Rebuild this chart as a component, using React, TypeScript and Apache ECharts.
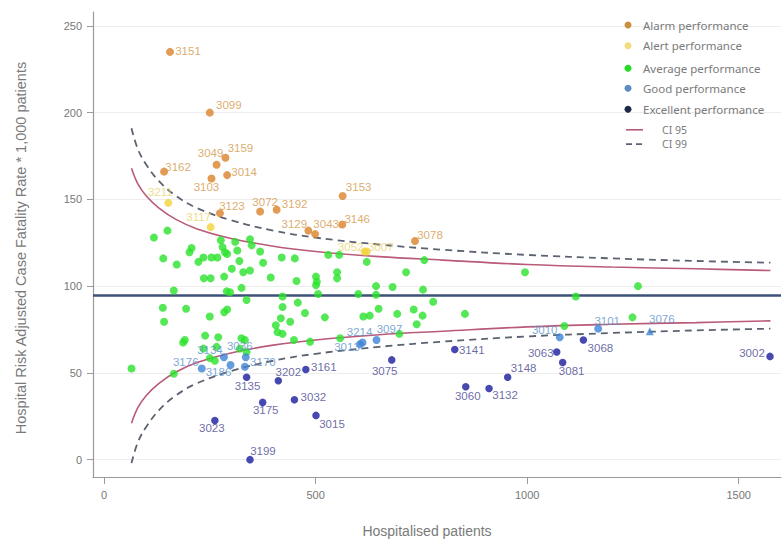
import React, { useEffect, useRef } from "react";
import * as echarts from "echarts";

// ---------- data ----------
const xTicks = [0, 500, 1000, 1500];
const yTicks = [0, 50, 100, 150, 200, 250];
const meanRate = 94.5;

const alarmIds = ["3151", "3099", "3159", "3049", "3014", "3162", "3103", "3123", "3072", "3192", "3129", "3043", "3153", "3146", "3078"];
const alarmX = [156, 250, 287, 266, 291, 142, 254, 274, 369, 408, 483, 499, 564, 563, 735];
const alarmY = [235, 200, 174, 170, 164, 166, 162, 142, 143, 144, 132, 130, 152, 135.5, 126];

const alertIds = ["3211", "3117", "3052", "3007"];
const alertX = [152, 252, 616, 621];
const alertY = [148, 134, 120, 120];

const averageX = [150, 118, 276, 345, 310, 349, 207, 280, 202, 286, 315, 369, 140, 235, 254, 268, 291, 420, 451, 530, 556, 320, 223, 172, 376, 621, 302, 329, 345, 236, 252, 284, 394, 455, 501, 503, 551, 551, 501, 325, 290, 298, 165, 422, 506, 601, 643, 682, 643, 337, 458, 139, 194, 284, 291, 422, 475, 649, 613, 628, 250, 522, 142, 406, 440, 693, 757, 714, 754, 778, 732, 753, 853, 739, 995, 1262, 1115, 1249, 1088, 418, 410, 422, 449, 239, 270, 191, 187, 325, 333, 235, 266, 321, 337, 250, 262, 65, 165, 487, 558, 698];
const averageY = [132, 128, 126.5, 127, 125.5, 123.5, 122, 122.5, 119.5, 119.5, 120.5, 120, 116, 116.5, 116.5, 116.5, 118.5, 116.5, 116, 118, 118, 114.5, 114, 112.5, 113.5, 114, 110, 108, 109, 104.5, 104.5, 105.5, 105, 103, 105.5, 102.5, 108, 104.5, 100.5, 99, 97, 96.5, 97.5, 94, 95.5, 95.5, 100, 99.5, 95, 92, 90.5, 87.5, 87, 85, 86.5, 88, 84.5, 87, 82.5, 83, 82.5, 82, 79.5, 77.5, 79.5, 84, 115, 108, 98, 91, 86.5, 83, 84, 78, 108, 100, 94, 82, 77, 81.5, 73.5, 72.5, 69, 71.5, 70.5, 69, 67.5, 70, 69, 64, 65, 64, 62, 58.5, 57, 52.5, 49.5, 68, 70, 72.5];

const goodIds = ["3176", "3186", "3134", "3036", "3170", "3214", "3097", "3013", "3010", "3101", "3076"];
const goodX = [231, 299, 283.5, 335, 333, 611, 644, 605, 1077, 1168, 1290];
const goodY = [52.5, 54.5, 59, 59, 53.5, 67.5, 69, 66.5, 70.5, 75.5, 74];

const excellentIds = ["3135", "3175", "3023", "3199", "3202", "3161", "3032", "3015", "3075", "3141", "3060", "3132", "3148", "3063", "3081", "3068", "3002"];
const excellentX = [337, 375, 262, 345, 412, 477, 450, 501, 680, 829, 855, 910, 954, 1070, 1084, 1133, 1574];
const excellentY = [47.5, 33, 22.5, 0, 45.5, 52, 34.5, 25.5, 57.5, 63.5, 42, 41, 47.5, 62, 56, 69, 59.5];

const ciX = [65, 80, 100, 130, 170, 220, 300, 400, 500, 650, 800, 1000, 1200, 1400, 1575];
const ci95Upper = [168, 159, 152, 145, 138.5, 133, 127.5, 123, 120, 117, 115, 112.5, 111, 110, 109];
const ci95Lower = [21, 30, 37, 44, 50.5, 56, 61.5, 66, 69, 72, 74, 76.5, 78, 79, 80];
const ci99Upper = [191, 179, 170, 160.5, 152, 145, 138, 132, 128, 124, 121, 118, 116, 114.5, 113.5];
const ci99Lower = [-2, 10, 19, 28.5, 37, 44, 51, 57, 61, 65, 68, 71, 73, 74.5, 75.5];

const legendNames = ["Alarm performance", "Alert performance", "Average performance", "Good performance", "Excellent performance"];
const ciNames = ["CI 95", "CI 99"];

// ---------- styles ----------
const labelOffsets: Record<string, [number, number]> = {
  "3151": [18, -1], "3099": [19, -8], "3159": [15, -10], "3049": [-6, -12], "3014": [17, -3],
  "3162": [14, -5], "3103": [-5, 8], "3123": [12, -7], "3072": [5, -10], "3192": [18, -6],
  "3129": [-14, -7], "3043": [11, -10], "3153": [16, -9], "3146": [15, -6], "3078": [15, -6],
  "3211": [-8, -11], "3117": [-12, -10], "3052": [-14, -4], "3007": [14, -4],
  "3176": [-16, -7], "3186": [-12, 7], "3134": [-14, -7], "3036": [-6, -11], "3170": [18, -5],
  "3214": [-3, -11], "3097": [13, -11], "3013": [-13, 3], "3010": [-15, -7], "3101": [9, -8], "3076": [12, -12],
  "3135": [1, 9], "3175": [3, 8], "3023": [-3, 7], "3199": [13, -9], "3202": [10, -9], "3161": [18, -2],
  "3032": [19, -3], "3015": [16, 9], "3075": [-7, 11], "3141": [17, 1], "3060": [2, 9], "3132": [16, 6],
  "3148": [16, -9], "3063": [-16, 1], "3081": [9, 9], "3068": [17, 8], "3002": [-18, -3],
};

const FONT = "Liberation Sans, Arial, sans-serif";
const LEG_FONT = "Noto Sans, sans-serif";

const dotColors = ["#d9822b", "#f3d33a", "#2ae22c", "#3d84d6", "#1a1a9e"];
const labelColors = ["#d39545", "#e9d26a", "#2ae22c", "#5a8fcb", "#45458e"];
const legendDotColors = ["#c9913f", "#f1dc7e", "#22dd22", "#5f8bc0", "#1b2a48"];
const ci95Color = "#b85a78";
const ci99Color = "#5c6370";

function labelled(ids: string[], xs: number[], ys: number[], color: string, special?: Record<string, string>) {
  return ids.map((id, i) => ({
    value: [xs[i], ys[i]],
    symbol: special && special[id] ? special[id] : "circle",
    label: {
      show: true,
      position: "inside",
      formatter: id,
      offset: labelOffsets[id] || [14, 0],
      color,
      fontSize: 11.5,
      fontFamily: FONT,
    },
  }));
}

function pairs(xs: number[], ys: number[]) {
  return xs.map((x, i) => [x, ys[i]]);
}

export default function App() {
  const ref = useRef<HTMLDivElement>(null);
  useEffect(() => {
    const chart = echarts.init(ref.current!, null, { renderer: "svg" });
    const legendY = [25, 45.7, 68.3, 88.3, 109.3];
    const ciLegendY = [129.8, 144.2];
    const graphics: any[] = [];
    legendNames.forEach((n, i) => {
      graphics.push({ type: "circle", shape: { cx: 628, cy: legendY[i], r: 3.5 }, style: { fill: legendDotColors[i] }, z: 100 });
      graphics.push({ type: "text", x: 643, y: legendY[i], style: { text: n, fill: "#7a7a7a", font: `11.5px ${LEG_FONT}`, textVerticalAlign: "middle" }, z: 100 });
    });
    graphics.push({ type: "line", shape: { x1: 626, y1: ciLegendY[0], x2: 643, y2: ciLegendY[0] }, style: { stroke: ci95Color, lineWidth: 1.6 }, z: 100 });
    graphics.push({ type: "text", x: 662, y: ciLegendY[0], style: { text: ciNames[0], fill: "#7a7a7a", font: `10.5px ${LEG_FONT}`, textVerticalAlign: "middle" }, z: 100 });
    graphics.push({ type: "line", shape: { x1: 626, y1: ciLegendY[1], x2: 643, y2: ciLegendY[1] }, style: { stroke: ci99Color, lineWidth: 1.8, lineDash: [6, 4] }, z: 100 });
    graphics.push({ type: "text", x: 662, y: ciLegendY[1], style: { text: ciNames[1], fill: "#7a7a7a", font: `10.5px ${LEG_FONT}`, textVerticalAlign: "middle" }, z: 100 });
    graphics.push({ type: "text", x: 21, y: 248, rotation: Math.PI / 2, style: { text: "Hospital Risk Adjusted Case Fatality Rate * 1,000 patients", fill: "#7a7a7a", font: `14.5px ${FONT}`, textAlign: "center", textVerticalAlign: "middle" } });
    graphics.push({ type: "text", x: 427, y: 531, style: { text: "Hospitalised patients", fill: "#7a7a7a", font: `14px ${FONT}`, textAlign: "center", textVerticalAlign: "middle" } });

    const ciLine = (data: number[], color: string, dashed: boolean, name: string) => ({
      type: "line",
      name,
      data: pairs(ciX, data),
      smooth: 0.4,
      showSymbol: false,
      symbol: "none",
      z: 2,
      lineStyle: dashed ? { color, width: 1.8, type: [7, 5] } : { color, width: 1.6 },
    });

    const plain = (v: number) => String(v);

    const option: any = {
      animation: false,
      backgroundColor: "#ffffff",
      grid: { left: 93, right: 2, top: 12, bottom: 65, containLabel: false },
      xAxis: {
        type: "value",
        min: -26,
        max: 1600,
        axisLine: { show: true, onZero: false, lineStyle: { color: "#9a9a9a", width: 1.2 } },
        axisTick: { show: true, customValues: xTicks, length: 7, lineStyle: { color: "#9a9a9a" } },
        axisLabel: { customValues: xTicks, formatter: plain, color: "#777", fontSize: 11, margin: 12, fontFamily: FONT },
        splitLine: { show: false },
      },
      yAxis: {
        type: "value",
        min: -10,
        max: 258,
        axisLine: { show: true, onZero: false, lineStyle: { color: "#9a9a9a", width: 1.2 } },
        axisTick: { show: true, customValues: yTicks, length: 6, lineStyle: { color: "#9a9a9a" } },
        axisLabel: { customValues: yTicks, formatter: plain, color: "#777", fontSize: 11, margin: 11, fontFamily: FONT },
        splitLine: { show: true, lineStyle: { color: "#ededed", width: 1 } },
      },
      graphic: graphics,
      series: [
        ciLine(ci95Upper, ci95Color, false, ciNames[0]),
        ciLine(ci95Lower, ci95Color, false, ciNames[0] + " lower"),
        ciLine(ci99Upper, ci99Color, true, ciNames[1]),
        ciLine(ci99Lower, ci99Color, true, ciNames[1] + " lower"),
        {
          type: "scatter",
          name: legendNames[2],
          data: pairs(averageX, averageY),
          symbolSize: 8,
          itemStyle: { color: dotColors[2] },
          z: 3,
          markLine: {
            silent: true,
            symbol: ["none", "none"],
            label: { show: false },
            lineStyle: { color: "#3d5277", width: 2.6, type: "solid" },
            data: [{ yAxis: meanRate }],
            z: 2,
          },
        },
        {
          type: "scatter",
          name: legendNames[0],
          data: labelled(alarmIds, alarmX, alarmY, labelColors[0]),
          symbolSize: 8,
          itemStyle: { color: dotColors[0] },
          z: 4,
        },
        {
          type: "scatter",
          name: legendNames[1],
          data: labelled(alertIds, alertX, alertY, labelColors[1]),
          symbolSize: 8,
          itemStyle: { color: dotColors[1] },
          z: 4,
        },
        {
          type: "scatter",
          name: legendNames[3],
          data: labelled(goodIds, goodX, goodY, labelColors[3], { "3076": "triangle" }),
          symbolSize: 8,
          itemStyle: { color: dotColors[3] },
          z: 4,
        },
        {
          type: "scatter",
          name: legendNames[4],
          data: labelled(excellentIds, excellentX, excellentY, labelColors[4]),
          symbolSize: 7.5,
          itemStyle: { color: dotColors[4] },
          z: 4,
        },
      ],
    };
    chart.setOption(option);
    return () => chart.dispose();
  }, []);
  return <div ref={ref} style={{ position: "fixed", left: 0, top: 0, width: 783, height: 542 }} />;
}
